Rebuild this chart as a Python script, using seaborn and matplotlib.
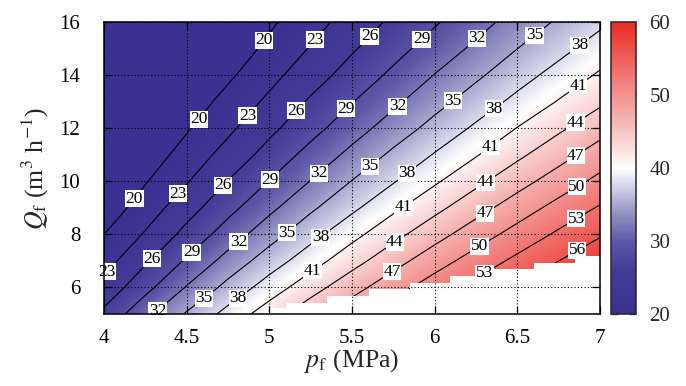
import numpy as np
import pandas as pd
import seaborn as sns
import matplotlib
matplotlib.use("Agg")
import matplotlib.pyplot as plt
from matplotlib.colors import LinearSegmentedColormap

# ---------------- data ----------------
p_values = [4.0, 4.25, 4.5, 4.75, 5.0, 5.25, 5.5, 5.75, 6.0, 6.25, 6.5, 6.75, 7.0]
q_values = [5, 6, 7, 8, 9, 10, 11, 12, 13, 14, 15, 16]

z_q5 = [26.7, 31.2, 35.3, 39.0, 42.6, 45.9, 48.9, 51.7, 54.2, 56.5, 59.2, 61.5, 63.5]
z_q6 = [24.0, 28.1, 32.2, 35.9, 39.4, 42.8, 45.9, 48.8, 51.5, 53.9, 56.2, 58.4, 60.6]
z_q7 = [21.8, 25.6, 29.4, 33.1, 36.5, 39.7, 42.9, 45.9, 48.7, 51.3, 53.7, 56.0, 58.2]
z_q8 = [20.0, 23.3, 26.9, 30.4, 33.8, 37.0, 40.1, 43.1, 45.9, 48.6, 51.1, 53.5, 55.7]
z_q9 = [18.2, 21.4, 24.8, 28.1, 31.3, 34.5, 37.4, 40.4, 43.2, 45.9, 48.5, 51.0, 53.3]
z_q10 = [16.7, 19.8, 22.8, 26.1, 29.1, 32.1, 35.1, 37.8, 40.6, 43.3, 45.9, 48.4, 50.8]
z_q11 = [15.4, 18.3, 21.2, 24.1, 27.1, 30.0, 32.8, 35.6, 38.2, 40.8, 43.4, 45.9, 48.4]
z_q12 = [14.1, 16.9, 19.7, 22.4, 25.3, 28.0, 30.7, 33.4, 36.0, 38.5, 41.1, 43.5, 45.9]
z_q13 = [13.0, 15.7, 18.3, 21.0, 23.6, 26.4, 28.9, 31.4, 34.0, 36.4, 38.8, 41.2, 43.5]
z_q14 = [11.6, 14.3, 16.9, 19.5, 22.1, 24.7, 27.2, 29.6, 32.1, 34.5, 36.8, 39.1, 41.4]
z_q15 = [10.7, 13.2, 15.7, 18.2, 20.7, 23.2, 25.7, 28.0, 30.3, 32.6, 35.0, 37.1, 39.4]
z_q16 = [10.3, 12.6, 14.9, 17.2, 19.5, 21.9, 24.2, 26.6, 28.7, 30.9, 33.2, 35.4, 37.4]

# infeasible (blank) region in the lower right: staircase upper edge
blank_p = [4.96, 5.10, 5.35, 5.60, 5.85, 6.09, 6.35, 6.60, 6.85, 7.0]
blank_q = [5.21, 5.43, 5.68, 5.93, 6.18, 6.44, 6.69, 6.94, 7.20, 7.20]

contour_levels = [20, 23, 26, 29, 32, 35, 38, 41, 44, 47, 50, 53, 56]
x_ticks = [4, 4.5, 5, 5.5, 6, 6.5, 7]
x_tick_labels = ["4", "4.5", "5", "5.5", "6", "6.5", "7"]
y_ticks = [6, 8, 10, 12, 14, 16]
cbar_ticks = [20, 30, 40, 50, 60]

df = pd.DataFrame([z_q5, z_q6, z_q7, z_q8, z_q9, z_q10, z_q11, z_q12,
                   z_q13, z_q14, z_q15, z_q16], index=q_values, columns=p_values)

# contour-label anchor positions (layout)
label_pos = [
    (4.964, 15.35), (4.571, 12.36), (4.188, 9.32),
    (5.276, 15.35), (4.863, 12.51), (4.443, 9.57), (4.03, 6.53),
    (5.609, 15.45), (5.161, 12.67), (4.718, 9.86), (4.289, 7.08),
    (5.922, 15.35), (5.464, 12.74), (5.0, 10.08), (4.53, 7.32),
    (6.258, 15.39), (5.771, 12.86), (5.297, 10.33), (4.813, 7.74), (4.33, 5.08),
    (6.607, 15.48), (6.109, 13.05), (5.609, 10.58), (5.105, 8.08), (4.611, 5.55),
    (6.88, 15.1), (6.355, 12.77), (5.831, 10.33), (5.311, 7.89), (4.813, 5.55),
    (6.87, 13.58), (6.335, 11.34), (5.811, 9.04), (5.26, 6.63),
    (6.855, 12.19), (6.311, 9.95), (5.76, 7.71),
    (6.855, 10.96), (6.305, 8.81), (5.744, 6.56),
    (6.86, 9.79), (6.27, 7.58),
    (6.855, 8.6), (6.30, 6.56),
    (6.86, 7.42),
]

# ---------------- style ----------------
sns.set_style("ticks")
plt.rcParams["font.family"] = ["Liberation Serif", "DejaVu Serif"]
plt.rcParams["mathtext.fontset"] = "stix"

cmap = LinearSegmentedColormap.from_list("bwr_custom", [
    (0.00, "#3b3192"), (0.15, "#433b97"), (0.25, "#5d57a7"),
    (0.35, "#9896c6"), (0.45, "#dcdcee"), (0.50, "#ffffff"),
    (0.575, "#fbdcdb"), (0.675, "#f5afad"), (0.75, "#f39290"),
    (0.875, "#ef5f5a"), (1.00, "#ec2b26")])

fig = plt.figure(figsize=(6.86, 3.86), dpi=100)
ax = fig.add_axes([0.1516, 0.1865, 0.7230, 0.7557])

pv = df.columns.values.astype(float)
qv = df.index.values.astype(float)
dp = pv[1] - pv[0]
dq = qv[1] - qv[0]
im = ax.imshow(df.values, origin="lower", cmap=cmap, vmin=20, vmax=60,
               extent=[pv[0] - dp / 2, pv[-1] + dp / 2, qv[0] - dq / 2, qv[-1] + dq / 2],
               aspect="auto", interpolation="bilinear", zorder=0)

cs = ax.contour(pv, qv, df.values, levels=contour_levels, colors="k",
                linewidths=0.8, zorder=1.5)

ax.fill_between(blank_p, 5, blank_q, step="post", color="white", lw=0, zorder=2)

texts = ax.clabel(cs, inline=False, fontsize=12.5, fmt="%d", manual=label_pos)
for t in texts:
    t.set_rotation(0)
    t.set_fontsize(12.5)
    t.set_bbox(dict(facecolor="white", edgecolor="none", pad=0.4))
    t.set_zorder(4)
    t.set_clip_on(False)

ax.set_xlim(4, 7)
ax.set_ylim(5, 16)
ax.set_xticks(x_ticks)
ax.set_xticklabels(x_tick_labels)
ax.set_yticks(y_ticks)
ax.set_axisbelow(False)
ax.grid(True, color="k", linestyle=(0, (1, 2)), linewidth=0.8)
ax.tick_params(direction="in", top=True, right=True, length=6, width=0.9,
               labelsize=15, colors="k")
ax.tick_params(axis="x", pad=11)
ax.tick_params(axis="y", pad=17)
for s in ax.spines.values():
    s.set_linewidth(1.1)
    s.set_color("k")
    s.set_zorder(5)

ax.set_xlabel(r"$p_\mathrm{f}$ (MPa)", fontsize=18.5, labelpad=-1)
ax.set_ylabel(r"$Q_\mathrm{f}$ (m$^3$ h$^{-1}$)", fontsize=18.5, labelpad=6)

cax = fig.add_axes([0.8907, 0.1865, 0.036, 0.7557])
cb = fig.colorbar(im, cax=cax, ticks=cbar_ticks)
cb.outline.set_linewidth(1.1)
cax.tick_params(direction="in", left=True, right=True, length=5, width=0.9,
                labelsize=15, pad=10)

fig.savefig("out.png", dpi=100)
